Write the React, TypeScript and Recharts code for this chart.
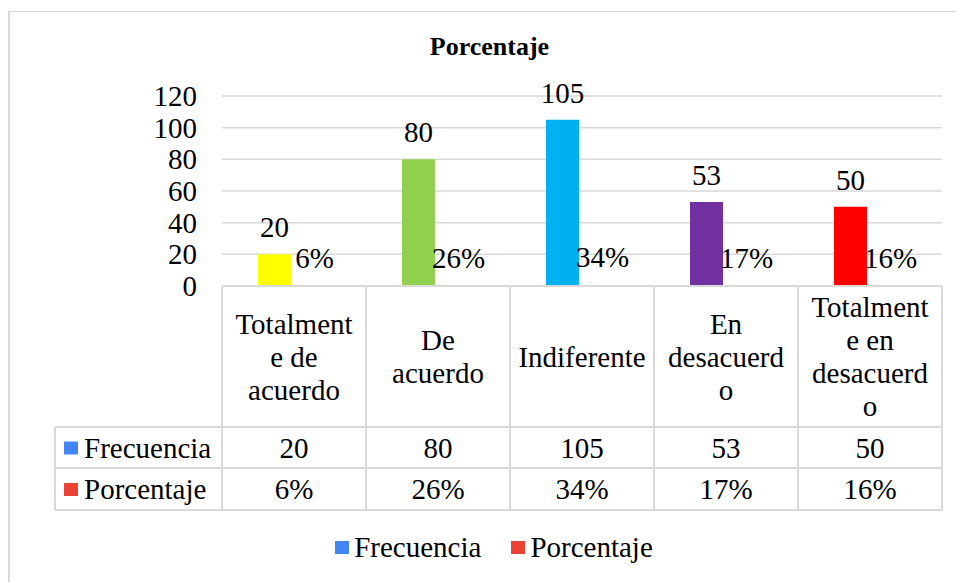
import React from 'react';
import {
  BarChart,
  Bar,
  XAxis,
  YAxis,
  CartesianGrid,
  Legend,
  LabelList,
  Cell
} from 'recharts';

const categories = ['Totalmente de acuerdo', 'De acuerdo', 'Indiferente', 'En desacuerdo', 'Totalmente en desacuerdo'];
// how the category names break inside the narrow table cells
const categoryLines = [
  ['Totalment', 'e de', 'acuerdo'],
  ['De', 'acuerdo'],
  ['Indiferente'],
  ['En', 'desacuerd', 'o'],
  ['Totalment', 'e en', 'desacuerd', 'o'],
];
const frecuencia = [20, 80, 105, 53, 50];
const porcentaje = [0.06, 0.26, 0.34, 0.17, 0.16];
const barColors = ['#FFFF00', '#92D050', '#00B0F0', '#7030A0', '#FF0000'];
const seriesNames = ['Frecuencia', 'Porcentaje'];
const seriesColors = ['#4285F4', '#EA4335'];
const yTicks = [0, 20, 40, 60, 80, 100, 120];

const FONT = "'Liberation Serif', 'Times New Roman', serif";
const GRID = '#D9D9D9';
const W = 956;
const H = 582;
const PLOT_LEFT = 222;
const PLOT_RIGHT = 942;
const PLOT_TOP = 96;
const PLOT_BOTTOM = 286;
const HEAD_BOTTOM = 427;
const ROW1_BOTTOM = 468;
const TABLE_BOTTOM = 510;
const TABLE_LEFT = 55;
const LINE_H = 33;

const pct = (v: number) => `${Math.round(v * 100)}%`;

const data = categories.map((name, i) => ({
  name,
  Frecuencia: frecuencia[i],
  Porcentaje: porcentaje[i],
}));

const textStyle = { fontFamily: FONT, fontSize: 29, fill: '#000' };

const TableTick = (props: any) => {
  const { x, payload } = props;
  const i = payload.index ?? props.index;
  const band = (PLOT_RIGHT - PLOT_LEFT) / categories.length;
  const lines = categoryLines[i];
  const headMid = (PLOT_BOTTOM + HEAD_BOTTOM) / 2;
  const row1Mid = (HEAD_BOTTOM + ROW1_BOTTOM) / 2;
  const row2Mid = (ROW1_BOTTOM + TABLE_BOTTOM) / 2;
  const rowMids = [row1Mid, row2Mid];

  return (
    <g>
      {i === 0 && (
        <g>
          {[HEAD_BOTTOM, ROW1_BOTTOM, TABLE_BOTTOM].map((yy) => (
            <line key={yy} x1={TABLE_LEFT} x2={PLOT_RIGHT} y1={yy} y2={yy} stroke={GRID} strokeWidth={2} />
          ))}
          <line x1={TABLE_LEFT} x2={TABLE_LEFT} y1={HEAD_BOTTOM} y2={TABLE_BOTTOM} stroke={GRID} strokeWidth={2} />
          <line x1={x - band / 2} x2={x - band / 2} y1={PLOT_BOTTOM} y2={TABLE_BOTTOM} stroke={GRID} strokeWidth={2} />
          {seriesNames.map((s, k) => (
            <g key={s}>
              <rect x={64} y={rowMids[k] - 6} width={14} height={13} fill={seriesColors[k]} />
              <text x={84} y={rowMids[k]} dy="0.35em" {...textStyle}>{s}</text>
            </g>
          ))}
        </g>
      )}
      <line x1={x + band / 2} x2={x + band / 2} y1={PLOT_BOTTOM} y2={TABLE_BOTTOM} stroke={GRID} strokeWidth={2} />
      {lines.map((ln, k) => (
        <text
          key={k}
          x={x}
          y={headMid + (k - (lines.length - 1) / 2) * LINE_H}
          dy="0.35em"
          textAnchor="middle"
          {...textStyle}
        >
          {ln}
        </text>
      ))}
      <text x={x} y={row1Mid} dy="0.35em" textAnchor="middle" {...textStyle}>{frecuencia[i]}</text>
      <text x={x} y={row2Mid} dy="0.35em" textAnchor="middle" {...textStyle}>{pct(porcentaje[i])}</text>
    </g>
  );
};

const YTick = (props: any) => {
  const { x, y, payload } = props;
  return (
    <text x={x} y={y} dy="0.35em" textAnchor="end" {...textStyle}>
      {payload.value}
    </text>
  );
};

const makeBarLabel = (fmt: (v: number) => string, offset: number) => (props: any) => {
  const { x, y, width, value } = props;
  return (
    <text x={Number(x) + Number(width) / 2} y={Number(y) - offset} textAnchor="middle" {...textStyle}>
      {fmt(Number(value))}
    </text>
  );
};

const renderLegend = (props: any) => {
  const { payload } = props;
  return (
    <div
      style={{
        display: 'flex',
        justifyContent: 'center',
        alignItems: 'center',
        fontFamily: FONT,
        fontSize: 29,
        lineHeight: '33px',
        color: '#000',
      }}
    >
      {(payload || []).map((entry: any, k: number) => (
        <span key={k} style={{ display: 'flex', alignItems: 'center', marginLeft: k ? 30 : 0 }}>
          <span style={{ width: 14, height: 13, background: entry.color, marginRight: 5, display: 'inline-block' }} />
          {entry.value}
        </span>
      ))}
    </div>
  );
};

const App: React.FC = () => {
  return (
    <div
      style={{
        position: 'absolute',
        left: 0,
        top: 0,
        width: W,
        height: H,
        overflow: 'hidden',
        background: '#fff',
        fontFamily: FONT,
      }}
    >
      <div
        style={{
          position: 'absolute',
          left: 8,
          top: 11,
          width: W,
          height: H,
          borderLeft: `2px solid ${GRID}`,
          borderTop: `1px solid ${GRID}`,
        }}
      />
      <div
        style={{
          position: 'absolute',
          left: 23,
          top: 32,
          width: 933,
          textAlign: 'center',
          fontFamily: FONT,
          fontWeight: 'bold',
          fontSize: 26,
          lineHeight: '30px',
          color: '#000',
        }}
      >
        Porcentaje
      </div>
      <div style={{ position: 'absolute', left: 0, top: 0 }}>
        <BarChart
          width={W}
          height={H}
          data={data}
          margin={{ top: PLOT_TOP, right: W - PLOT_RIGHT, bottom: H - TABLE_BOTTOM, left: 0 }}
          barGap={7}
          barSize={33}
          style={{ fontFamily: FONT }}
        >
          <CartesianGrid vertical={false} stroke={GRID} strokeWidth={1.5} />
          <XAxis
            dataKey="name"
            interval={0}
            height={TABLE_BOTTOM - PLOT_BOTTOM}
            axisLine={{ stroke: GRID, strokeWidth: 2 }}
            tickLine={false}
            tick={<TableTick />}
          />
          <YAxis
            width={PLOT_LEFT}
            domain={[0, 120]}
            ticks={yTicks}
            interval={0}
            axisLine={false}
            tickLine={false}
            tickMargin={19}
            tick={<YTick />}
          />
          <Legend
            layout="horizontal"
            verticalAlign="middle"
            align="center"
            content={renderLegend}
            wrapperStyle={{ top: 531, left: 16, width: W, height: 33 }}
          />
          <Bar dataKey="Frecuencia" name={seriesNames[0]} fill={seriesColors[0]} isAnimationActive={false}>
            {data.map((_, i) => (
              <Cell key={`f-${i}`} fill={barColors[i]} />
            ))}
            <LabelList dataKey="Frecuencia" content={makeBarLabel((v) => String(v), 17)} />
          </Bar>
          <Bar dataKey="Porcentaje" name={seriesNames[1]} fill={seriesColors[1]} isAnimationActive={false}>
            {data.map((_, i) => (
              <Cell key={`p-${i}`} fill={barColors[i]} />
            ))}
            <LabelList dataKey="Porcentaje" content={makeBarLabel(pct, 18)} />
          </Bar>
        </BarChart>
      </div>
    </div>
  );
};

export default App;
